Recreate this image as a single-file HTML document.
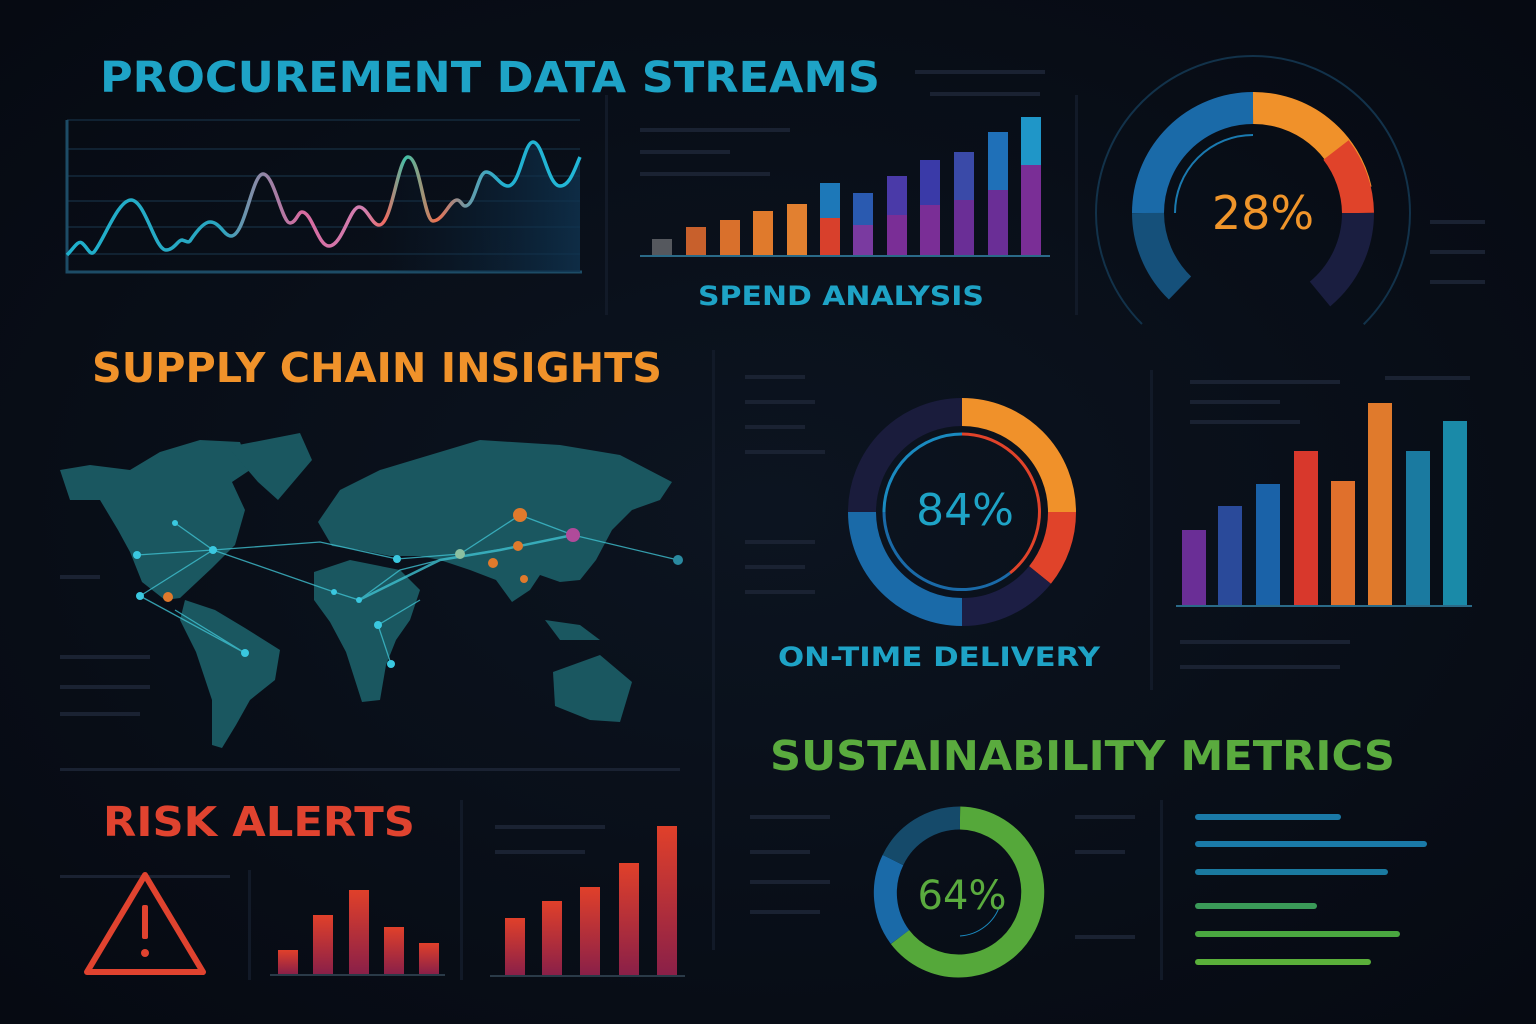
<!DOCTYPE html>
<html><head><meta charset="utf-8"><style>
html,body{margin:0;padding:0;background:#070b14;}
svg{display:block}
text{font-family:"DejaVu Sans","Liberation Sans",sans-serif;}
</style></head><body>
<svg width="1536" height="1024" viewBox="0 0 1536 1024" xmlns="http://www.w3.org/2000/svg">
<defs>
<radialGradient id="bg" cx="50%" cy="50%" r="70%"><stop offset="0" stop-color="#0c1420"/><stop offset="1" stop-color="#060a12"/></radialGradient>
<linearGradient id="ln" gradientUnits="userSpaceOnUse" x1="67" y1="0" x2="580" y2="0">
<stop offset="0" stop-color="#1fb0cc"/><stop offset="0.3" stop-color="#2aa6c0"/><stop offset="0.36" stop-color="#7d8ea8"/><stop offset="0.46" stop-color="#d86aa0"/><stop offset="0.58" stop-color="#d07fb0"/><stop offset="0.62" stop-color="#ee6b60"/><stop offset="0.66" stop-color="#40c0a8"/><stop offset="0.72" stop-color="#ee7050"/><stop offset="0.78" stop-color="#6a9aa8"/><stop offset="0.85" stop-color="#22b0d0"/><stop offset="1" stop-color="#22b8d8"/></linearGradient>
<linearGradient id="area" x1="0" y1="0" x2="1" y2="0"><stop offset="0.6" stop-color="#0a2035" stop-opacity="0"/><stop offset="1" stop-color="#0f3350" stop-opacity="0.8"/></linearGradient>
<linearGradient id="rb" x1="0" y1="0" x2="0" y2="1"><stop offset="0" stop-color="#e0402a"/><stop offset="1" stop-color="#8a2048"/></linearGradient>
</defs>
<rect width="1536" height="1024" fill="url(#bg)"/>

<g fill="#1a2232">
<rect x="915" y="70" width="130" height="4"/><rect x="930" y="92" width="110" height="4"/>
<rect x="640" y="128" width="150" height="4"/><rect x="640" y="150" width="90" height="4"/><rect x="640" y="172" width="130" height="4"/>
<rect x="1430" y="220" width="55" height="4"/><rect x="1430" y="250" width="55" height="4"/><rect x="1430" y="280" width="55" height="4"/>
<rect x="745" y="375" width="60" height="4"/><rect x="745" y="400" width="70" height="4"/><rect x="745" y="425" width="60" height="4"/><rect x="745" y="450" width="80" height="4"/>
<rect x="745" y="540" width="70" height="4"/><rect x="745" y="565" width="60" height="4"/><rect x="745" y="590" width="70" height="4"/>
<rect x="1180" y="640" width="170" height="4"/><rect x="1180" y="665" width="160" height="4"/>
<rect x="60" y="575" width="40" height="4"/><rect x="60" y="655" width="90" height="4"/><rect x="60" y="685" width="90" height="4"/><rect x="60" y="712" width="80" height="4"/>
<rect x="60" y="768" width="620" height="3"/><rect x="60" y="875" width="170" height="3"/>
<rect x="750" y="815" width="80" height="4"/><rect x="750" y="850" width="60" height="4"/><rect x="750" y="880" width="80" height="4"/><rect x="750" y="910" width="70" height="4"/>
<rect x="1075" y="815" width="60" height="4"/><rect x="1075" y="850" width="50" height="4"/><rect x="1075" y="935" width="60" height="4"/>
<rect x="495" y="825" width="110" height="4"/><rect x="495" y="850" width="90" height="4"/>
<rect x="1190" y="380" width="150" height="4"/><rect x="1190" y="400" width="90" height="4"/><rect x="1190" y="420" width="110" height="4"/><rect x="1385" y="376" width="85" height="4"/>
</g>
<g fill="#121a28">
<rect x="605" y="95" width="3" height="220"/><rect x="1075" y="95" width="3" height="220"/><rect x="712" y="350" width="3" height="600"/>
<rect x="1150" y="370" width="3" height="320"/><rect x="1160" y="800" width="3" height="180"/><rect x="460" y="800" width="3" height="180"/><rect x="248" y="870" width="3" height="110"/>
</g>

<text x="100" y="92" font-size="43" font-weight="bold" fill="#1ea3c6" textLength="780" lengthAdjust="spacingAndGlyphs">PROCUREMENT DATA STREAMS</text>

<g stroke="#142a3c" stroke-width="1.5">
<line x1="67" y1="120" x2="580" y2="120"/><line x1="67" y1="149" x2="580" y2="149"/><line x1="67" y1="176" x2="580" y2="176"/><line x1="67" y1="201" x2="580" y2="201"/><line x1="67" y1="227" x2="580" y2="227"/><line x1="67" y1="254" x2="580" y2="254"/>
</g>
<path d="M67 120 V272 H582" fill="none" stroke="#1d4c66" stroke-width="3"/>
<path d="M67 255 C74 248 78 240 82 243 C88 248 90 256 94 252 C104 240 118 200 131 200 C145 200 155 250 166 250 C174 250 178 240 182 240 C186 241 188 243 190 241 C196 232 204 222 210 222 C220 222 224 236 231 236 C245 236 252 174 263 174 C274 174 282 223 290 223 C296 223 298 212 302 212 C312 212 318 246 329 246 C342 246 350 207 359 207 C367 207 372 225 379 225 C392 225 398 157 408 157 C420 157 424 221 433 221 C443 221 450 200 457 200 C461 200 462 206 465 206 C475 206 478 172 486 172 C494 172 500 186 508 186 C520 186 524 142 533 142 C543 142 548 186 560 186 C570 186 575 168 580 157 L580 272 L67 272 Z" fill="url(#area)"/>
<path d="M67 255 C74 248 78 240 82 243 C88 248 90 256 94 252 C104 240 118 200 131 200 C145 200 155 250 166 250 C174 250 178 240 182 240 C186 241 188 243 190 241 C196 232 204 222 210 222 C220 222 224 236 231 236 C245 236 252 174 263 174 C274 174 282 223 290 223 C296 223 298 212 302 212 C312 212 318 246 329 246 C342 246 350 207 359 207 C367 207 372 225 379 225 C392 225 398 157 408 157 C420 157 424 221 433 221 C443 221 450 200 457 200 C461 200 462 206 465 206 C475 206 478 172 486 172 C494 172 500 186 508 186 C520 186 524 142 533 142 C543 142 548 186 560 186 C570 186 575 168 580 157" fill="none" stroke="url(#ln)" stroke-width="3.5"/>

<line x1="640" y1="256" x2="1050" y2="256" stroke="#2a6a88" stroke-width="2"/>
<rect x="652" y="239" width="20" height="16" fill="#55585e"/>
<rect x="686" y="227" width="20" height="28" fill="#c8602c"/>
<rect x="720" y="220" width="20" height="35" fill="#d9702c"/>
<rect x="753" y="211" width="20" height="44" fill="#e07a2c"/>
<rect x="787" y="204" width="20" height="51" fill="#e28030"/>
<rect x="820" y="183" width="20" height="72" fill="#1d78b8"/><rect x="820" y="218" width="20" height="37" fill="#d8402c"/>
<rect x="853" y="193" width="20" height="62" fill="#2a5ab0"/><rect x="853" y="225" width="20" height="30" fill="#7a3aa0"/>
<rect x="887" y="176" width="20" height="79" fill="#4a3aa8"/><rect x="887" y="215" width="20" height="40" fill="#7a2e96"/>
<rect x="920" y="160" width="20" height="95" fill="#3a3aa8"/><rect x="920" y="205" width="20" height="50" fill="#7a2e96"/>
<rect x="954" y="152" width="20" height="103" fill="#3a4aa8"/><rect x="954" y="200" width="20" height="55" fill="#6a2e96"/>
<rect x="988" y="132" width="20" height="123" fill="#1f70b8"/><rect x="988" y="190" width="20" height="65" fill="#6a2e96"/>
<rect x="1021" y="117" width="20" height="138" fill="#1f96c8"/><rect x="1021" y="165" width="20" height="90" fill="#7a2e96"/>
<text x="698" y="305" font-size="27" font-weight="bold" fill="#1ea3c6" textLength="286" lengthAdjust="spacingAndGlyphs">SPEND ANALYSIS</text>

<g fill="none">
<circle cx="1253" cy="213" r="157" stroke="#12324a" stroke-width="2" stroke-dasharray="740 300" transform="rotate(135 1253 213)"/>
<path d="M1253 108 A105 105 0 0 1 1356 190" stroke="#f0912a" stroke-width="32"/>
<path d="M1336 150 A105 105 0 0 1 1358 213" stroke="#e0432a" stroke-width="32"/>
<path d="M1358 213 A105 105 0 0 1 1320 294" stroke="#1a1e40" stroke-width="32"/>
<path d="M1253 108 A105 105 0 0 0 1148 213" stroke="#1a6aa8" stroke-width="32"/>
<path d="M1148 213 A105 105 0 0 0 1180 288" stroke="#15507a" stroke-width="32"/>
<path d="M1253 135 A78 78 0 0 0 1175 213" stroke="#1a7ab0" stroke-width="2"/>
</g>
<text x="1263" y="229" font-size="46" fill="#f0952a" text-anchor="middle">28%</text>

<text x="92" y="382" font-size="41" font-weight="bold" fill="#f0922a" textLength="570" lengthAdjust="spacingAndGlyphs">SUPPLY CHAIN INSIGHTS</text>
<g fill="#1a5760">
<path d="M60 470 L90 465 L130 470 L160 452 L200 440 L240 442 L250 470 L232 482 L245 510 L235 545 L212 568 L180 598 L165 600 L142 582 L130 552 L118 530 L100 500 L70 500 Z"/>
<path d="M228 447 L300 433 L312 460 L278 500 L258 482 Z"/>
<path d="M185 600 L215 610 L245 628 L280 650 L275 680 L250 700 L236 725 L222 748 L212 745 L212 700 L196 652 L180 620 Z"/>
<path d="M318 522 L340 490 L380 470 L420 458 L480 440 L560 445 L620 455 L672 482 L660 500 L632 510 L612 530 L596 560 L580 580 L560 582 L540 575 L530 590 L512 602 L496 580 L470 570 L440 560 L420 556 L390 556 L360 550 L332 546 Z"/>
<path d="M314 572 L350 560 L400 570 L420 590 L410 620 L396 640 L386 665 L380 700 L362 702 L346 652 L330 622 L314 600 Z"/>
<path d="M553 672 L600 655 L632 682 L620 722 L590 720 L555 706 Z"/>
<path d="M545 620 L580 625 L600 640 L560 640 Z"/>
</g>
<g stroke="#3fc0d0" stroke-width="1.3" fill="none" opacity="0.8">
<path d="M137 555 L213 550 L175 523"/><path d="M140 596 L213 550 L320 542 L397 559 L460 554 L520 515 L573 535 L678 560"/>
<path d="M213 550 L334 592 L359 600 L400 570 L440 560 L520 546"/><path d="M359 600 L440 560 L500 550 L573 535" stroke-width="2.5"/>
<path d="M378 625 L391 664"/><path d="M140 596 L245 653 L175 610"/><path d="M378 625 L420 600"/>
</g>
<g fill="#3ac8e0">
<circle cx="137" cy="555" r="4"/><circle cx="175" cy="523" r="3"/><circle cx="213" cy="550" r="4"/><circle cx="140" cy="596" r="4"/><circle cx="245" cy="653" r="4"/><circle cx="378" cy="625" r="4"/><circle cx="391" cy="664" r="4"/><circle cx="334" cy="592" r="3"/><circle cx="359" cy="600" r="3"/><circle cx="397" cy="559" r="4"/><circle cx="678" cy="560" r="5" fill="#2a8aa0"/>
</g>
<circle cx="460" cy="554" r="5" fill="#8cc0a0"/><circle cx="168" cy="597" r="5" fill="#e07a2c"/>
<circle cx="520" cy="515" r="7" fill="#e07a2c"/><circle cx="518" cy="546" r="5" fill="#e07a2c"/><circle cx="493" cy="563" r="5" fill="#e07a2c"/><circle cx="524" cy="579" r="4" fill="#e07a2c"/><circle cx="573" cy="535" r="7" fill="#b04a9a"/>

<g fill="none" stroke-width="28">
<path d="M962 412 A100 100 0 0 1 1062 512" stroke="#f0912a"/>
<path d="M1062 512 A100 100 0 0 1 1040 575" stroke="#e0432a"/>
<path d="M1040 575 A100 100 0 0 1 962 612" stroke="#1c1e44"/>
<path d="M962 612 A100 100 0 0 1 862 512" stroke="#1a6aa8"/>
<path d="M862 512 A100 100 0 0 1 962 412" stroke="#1a1c3c"/>
</g>
<g fill="none" stroke-width="3">
<path d="M962 434 A78 78 0 0 1 1010 573" stroke="#e0432a"/>
<path d="M1010 573 A78 78 0 0 1 884 512" stroke="#1a6aa8"/>
<path d="M884 512 A78 78 0 0 1 962 434" stroke="#1a8ac0"/>
</g>
<text x="965" y="525" font-size="44" fill="#1ea3c6" text-anchor="middle">84%</text>
<text x="778" y="666" font-size="27" font-weight="bold" fill="#1ea3c6" textLength="322" lengthAdjust="spacingAndGlyphs">ON-TIME DELIVERY</text>

<line x1="1176" y1="606" x2="1472" y2="606" stroke="#2a6a88" stroke-width="2"/>
<rect x="1182" y="530" width="24" height="75" fill="#6a2e96"/>
<rect x="1218" y="506" width="24" height="99" fill="#2a4a9a"/>
<rect x="1256" y="484" width="24" height="121" fill="#1a62a8"/>
<rect x="1294" y="451" width="24" height="154" fill="#d8382c"/>
<rect x="1331" y="481" width="24" height="124" fill="#e0702c"/>
<rect x="1368" y="403" width="24" height="202" fill="#e07a2c"/>
<rect x="1406" y="451" width="24" height="154" fill="#1a7aa0"/>
<rect x="1443" y="421" width="24" height="184" fill="#1a8aa8"/>

<text x="770" y="770" font-size="41" font-weight="bold" fill="#5aab3e" textLength="625" lengthAdjust="spacingAndGlyphs">SUSTAINABILITY METRICS</text>
<g fill="none" stroke-width="23">
<path d="M960 818 A74 74 0 1 1 900 937" stroke="#55a83a"/>
<path d="M900 937 A74 74 0 0 1 893 860" stroke="#1a6aa8"/>
<path d="M893 860 A74 74 0 0 1 960 818" stroke="#154a6a"/>
</g>
<path d="M960 936 A45 45 0 0 0 1000 905" fill="none" stroke="#1a8ac0" stroke-width="1"/>
<text x="962" y="909" font-size="40" fill="#5aab3e" text-anchor="middle">64%</text>
<g stroke-width="6" stroke-linecap="round">
<line x1="1198" y1="817" x2="1338" y2="817" stroke="#1a7aa8"/>
<line x1="1198" y1="844" x2="1424" y2="844" stroke="#1a7aa8"/>
<line x1="1198" y1="872" x2="1385" y2="872" stroke="#1a7aa0"/>
<line x1="1198" y1="906" x2="1314" y2="906" stroke="#3a9a58"/>
<line x1="1198" y1="934" x2="1397" y2="934" stroke="#4aa840"/>
<line x1="1198" y1="962" x2="1368" y2="962" stroke="#5ab03a"/>
</g>

<text x="103" y="836" font-size="41" font-weight="bold" fill="#e0432f" textLength="312" lengthAdjust="spacingAndGlyphs">RISK ALERTS</text>
<path d="M145 875 L203 972 L87 972 Z" fill="none" stroke="#e0432f" stroke-width="6" stroke-linejoin="round"/>
<rect x="142" y="905" width="6" height="34" rx="2" fill="#e0432f"/><circle cx="145" cy="953" r="4" fill="#e0432f"/>
<line x1="270" y1="975" x2="445" y2="975" stroke="#2a3a48" stroke-width="2"/>
<rect x="278" y="950" width="20" height="24" fill="url(#rb)"/>
<rect x="313" y="915" width="20" height="59" fill="url(#rb)"/>
<rect x="349" y="890" width="20" height="84" fill="url(#rb)"/>
<rect x="384" y="927" width="20" height="47" fill="url(#rb)"/>
<rect x="419" y="943" width="20" height="31" fill="url(#rb)"/>
<line x1="490" y1="976" x2="685" y2="976" stroke="#2a3a48" stroke-width="2"/>
<rect x="505" y="918" width="20" height="57" fill="url(#rb)"/>
<rect x="542" y="901" width="20" height="74" fill="url(#rb)"/>
<rect x="580" y="887" width="20" height="88" fill="url(#rb)"/>
<rect x="619" y="863" width="20" height="112" fill="url(#rb)"/>
<rect x="657" y="826" width="20" height="149" fill="url(#rb)"/>
</svg>
</body></html>
